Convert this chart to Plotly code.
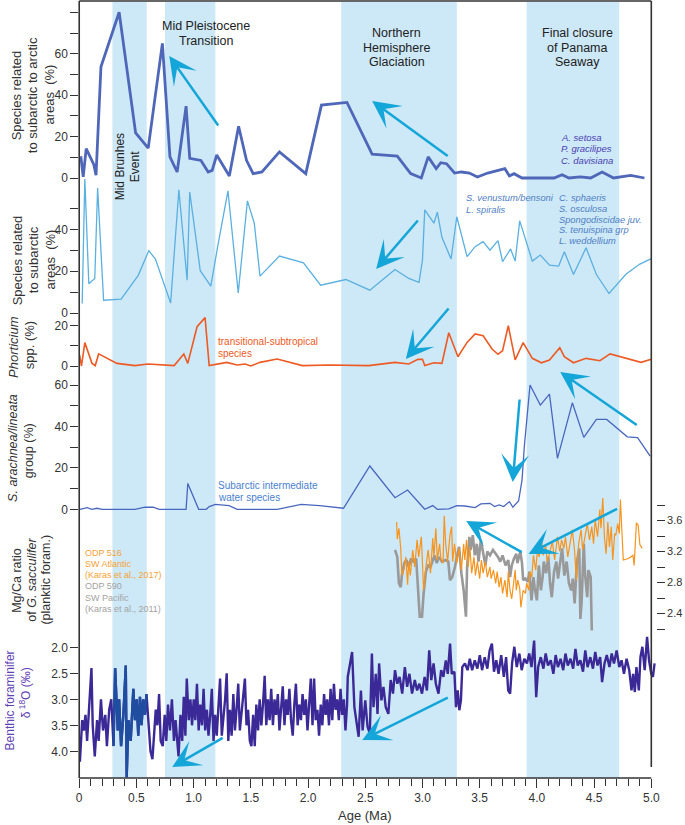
import plotly.graph_objects as go

W, H = 685, 825
FONT = "Liberation Sans, Arial, sans-serif"

# ---------------- data ----------------
arctic_age = [0.014, 0.035, 0.061, 0.127, 0.147, 0.19, 0.349, 0.493, 0.603, 0.727, 0.793, 0.856, 0.934, 0.966,
              1.064, 1.127, 1.162, 1.202, 1.312, 1.393, 1.462, 1.52, 1.597, 1.75, 1.98, 2.117, 2.34, 2.56, 2.78,
              2.897, 2.99, 3.05, 3.12, 3.16, 3.21, 3.28, 3.34, 3.41, 3.48, 3.57, 3.72, 3.76, 3.80, 3.87, 4.15,
              4.22, 4.28, 4.38, 4.47, 4.57, 4.67, 4.82, 4.94]
arctic_pct = [10.5, 0.5, 14.2, 6.6, 1.3, 53.7, 80.0, 21.8, 14.4, 65.0, 10.2, 2.9, 34.7, 9.5,
              8.5, 2.9, 3.7, 11.1, 1.0, 25.0, 8.5, 2.1, 2.9, 12.6, 2.1, 35.2, 36.5, 11.5, 10.6,
              2.1, 0.0, 10.2, 4.5, 7.4, 6.9, 2.4, 2.9, 2.4, 0.5, 2.4, 4.5, 1.0, 2.1, 0.0, 0.0,
              1.6, 0.0, 0.5, 0.0, 2.9, 0.0, 1.3, 0.0]

subarc_age = [0.026, 0.049, 0.084, 0.136, 0.161, 0.213, 0.366, 0.516, 0.608, 0.666, 0.799, 0.871, 0.943, 0.966,
              1.058, 1.15, 1.21, 1.30, 1.39, 1.47, 1.53, 1.58, 1.75, 1.96, 2.11, 2.33, 2.54, 2.76, 2.88, 2.97,
              3.00, 3.02, 3.10, 3.13, 3.17, 3.25, 3.30, 3.39, 3.46, 3.53, 3.59, 3.66, 3.70, 3.77, 3.81, 3.85,
              3.96, 4.03, 4.11, 4.19, 4.24, 4.32, 4.43, 4.52, 4.63, 4.78, 4.90, 5.00]
subarc_pct = [4.5, 64, 14, 16.5, 59.7, 6.1, 6.6, 18, 29.8, 25.8, 4.8, 58.9, 15.7, 57.8,
              20.2, 12.8, 31.7, 58.4, 9.6, 53.6, 42.9, 17.6, 27.2, 24, 13.3, 16, 10.9, 20.8, 16.5, 14.6,
              25.3, 49.3, 42.9, 48.2, 36.2, 25.8, 46, 26.9, 31.7, 34.1, 30, 34.6, 24.5, 30.6, 24.8, 44,
              24.8, 27.7, 22.9, 22.4, 29.3, 18.4, 31.2, 18.4, 9.3, 18.6, 23.4, 26]

phort_age = [0.003, 0.02, 0.049, 0.112, 0.14, 0.17, 0.33, 0.487, 0.60, 0.83, 0.914, 0.949, 1.03, 1.10, 1.136,
             1.29, 1.38, 1.45, 1.50, 1.58, 1.73, 1.95, 2.19, 2.53, 2.76, 2.88, 2.96, 3.00, 3.02, 3.10, 3.17,
             3.23, 3.31, 3.39, 3.46, 3.53, 3.61, 3.66, 3.70, 3.75, 3.81, 3.88, 3.96, 4.04, 4.11, 4.20, 4.24,
             4.32, 4.43, 4.55, 4.64, 4.78, 4.91, 5.00]
phort_pct = [5.5, 0, 11.6, 1.3, 0.2, 6, 1.3, 0.2, 1, 0.2, 6, 1.3, 19.5, 24, 0.2,
             1.8, 0.5, 1, 0, 1.8, 3.5, 0.2, 0.5, 0.2, 1.8, 1, 3.3, 3.3, 0.2, 1.6, 1.3,
             16.5, 4.6, 11.7, 15.9, 15, 8.3, 5.8, 7.6, 20, 3, 11.6, 3.8, 1.6, 3, 9.1, 4.6,
             1.6, 3.8, 2.6, 6, 3.8, 1.8, 3.3]

sarach_age = [0.006, 0.07, 0.11, 0.156, 0.2, 0.487, 0.574, 0.646, 0.70, 0.934, 0.949, 1.044, 1.11, 1.136, 1.19,
              1.31, 1.38, 1.73, 1.94, 2.10, 2.31, 2.54, 2.76, 2.87, 3.02, 3.09, 3.13, 3.23, 3.30, 3.37, 3.46,
              3.51, 3.59, 3.63, 3.67, 3.71, 3.76, 3.79, 3.84, 3.87, 3.89, 3.94, 4.03, 4.11, 4.18, 4.31, 4.41,
              4.52, 4.61, 4.71, 4.79, 4.88, 4.99]
sarach_pct = [0, 0.8, 0, 0.5, 0, 0, 1, 1, 0, 0, 12.5, 0, 0, 1.3, 2.4,
              1.8, 0, 0, 2.4, 1.8, 0.5, 20.9, 5.6, 9.3, 0, 1.8, 0, 0.2, 1.8, 1.6, 0.8,
              2.6, 2.9, 1.3, 2.1, 1.3, 3.7, 1, 4, 14.1, 30.2, 60, 50.3, 55.6, 24.6, 51.4, 34.7,
              43.4, 43.4, 38.7, 35, 34.6, 25.7]

odp516_age = [2.774, 2.78, 2.794, 2.81, 2.82, 2.84, 2.855, 2.87, 2.88, 2.894, 2.915, 2.932, 2.953, 2.967, 2.99,
              3.01, 3.03, 3.05, 3.07, 3.09, 3.10, 3.117, 3.13, 3.15, 3.16, 3.18, 3.19, 3.203, 3.22, 3.24, 3.255,
              3.264, 3.28, 3.30, 3.32, 3.34, 3.36, 3.37, 3.385, 3.40, 3.414, 3.43, 3.45, 3.463, 3.48, 3.50,
              3.515, 3.53, 3.55, 3.567, 3.59, 3.60, 3.62, 3.64, 3.653, 3.67, 3.686, 3.70, 3.72, 3.74, 3.75,
              3.765, 3.78, 3.794, 3.81, 3.82, 3.833, 3.85, 3.86, 3.88, 3.90, 3.91, 3.93, 3.94, 3.955, 3.97,
              3.99, 4.005, 4.02, 4.04, 4.055, 4.077, 4.09, 4.115, 4.135, 4.155, 4.18, 4.20, 4.216, 4.236, 4.25,
              4.27, 4.288, 4.31, 4.33, 4.345, 4.365, 4.386, 4.40, 4.42, 4.44, 4.46, 4.48, 4.495, 4.51, 4.53,
              4.55, 4.56, 4.576, 4.59, 4.605, 4.62, 4.634, 4.65, 4.663, 4.68, 4.69, 4.706, 4.72, 4.73, 4.74,
              4.755, 4.80, 4.84, 4.85, 4.87, 4.885, 4.90, 4.92]
odp516_mgca = [3.58, 3.36, 3.50, 3.24, 2.89, 2.98, 3.13, 2.77, 3.07, 2.89, 3.22, 3.00, 3.35, 3.13, 3.39,
               2.70, 3.00, 3.22, 2.92, 3.37, 3.13, 3.50, 3.09, 3.30, 3.11, 3.05, 3.66, 3.30, 3.07, 3.41, 3.52,
               3.07, 3.30, 3.05, 3.24, 2.96, 3.30, 3.09, 3.35, 3.00, 3.26, 2.92, 3.13, 2.89, 3.07, 2.85,
               3.09, 2.92, 3.07, 2.87, 3.00, 2.85, 2.96, 2.79, 2.94, 2.74, 2.87, 2.66, 2.83, 2.61, 2.94,
               2.70, 2.59, 2.79, 2.96, 2.70, 2.83, 2.72, 2.48, 2.70, 2.66, 2.79, 2.70, 2.94, 2.87, 3.15,
               2.96, 3.22, 3.13, 3.35, 3.15, 3.28, 3.07, 3.20, 3.33, 3.09, 3.39, 3.20, 3.35, 3.24, 3.39,
               3.13, 3.30, 3.48, 3.20, 2.83, 3.30, 3.48, 3.22, 3.41, 3.56, 3.35, 3.52, 3.30, 3.61, 3.39,
               3.74, 3.50, 3.89, 3.39, 3.17, 3.58, 3.26, 3.52, 3.09, 3.43, 3.41, 3.56, 3.43, 3.87, 3.52,
               3.09, 3.11, 3.15, 3.02, 3.57, 3.54, 3.29, 3.24]

odp590_age = [2.76, 2.78, 2.794, 2.81, 2.82, 2.84, 2.86, 2.88, 2.90, 2.92, 2.945, 2.96, 2.976, 2.996, 3.01,
              3.03, 3.05, 3.07, 3.09, 3.106, 3.125, 3.145, 3.17, 3.20, 3.226, 3.24, 3.26, 3.284, 3.30, 3.32,
              3.34, 3.36, 3.38, 3.39, 3.41, 3.42, 3.44, 3.457, 3.475, 3.49, 3.51, 3.53, 3.55, 3.567, 3.59,
              3.616, 3.64, 3.66, 3.68, 3.70, 3.726, 3.75, 3.766, 3.78, 3.80, 3.82, 3.83, 3.855, 3.87, 3.88,
              3.90, 3.92, 3.935, 3.953, 3.97, 3.98, 4.00, 4.017, 4.035, 4.05, 4.06, 4.08, 4.10, 4.115, 4.13,
              4.15, 4.17, 4.185, 4.20, 4.22, 4.24, 4.26, 4.28, 4.30, 4.314, 4.33, 4.35, 4.37, 4.38, 4.39,
              4.41, 4.42, 4.44, 4.45, 4.47, 4.48]
odp590_mgca = [3.22, 3.13, 2.79, 2.74, 2.89, 3.05, 3.09, 3.00, 3.11, 3.07, 3.11, 2.72, 2.36, 2.36, 2.66,
               2.94, 3.02, 3.00, 3.07, 3.15, 3.05, 3.13, 3.07, 3.09, 3.07, 2.83, 2.87, 3.00, 3.13, 3.26,
               2.92, 2.70, 2.36, 3.00, 3.39, 3.22, 3.41, 3.15, 3.30, 3.07, 3.35, 3.17, 3.02, 3.20, 3.15,
               3.22, 3.17, 3.13, 3.07, 3.15, 3.02, 3.09, 2.87, 3.02, 3.11, 3.17, 3.05, 3.20, 3.05, 2.83,
               2.85, 2.81, 2.94, 2.57, 2.87, 2.74, 2.57, 3.02, 2.70, 2.87, 3.07, 2.92, 3.13, 2.79, 2.61,
               2.94, 3.07, 2.85, 3.02, 3.24, 2.89, 3.07, 2.79, 2.70, 2.85, 2.53, 3.07, 3.24, 2.33, 2.53,
               3.30, 2.92, 2.61, 2.96, 2.87, 2.18]

d18o_age = [0.006, 0.026, 0.040, 0.055, 0.069, 0.089, 0.107, 0.118, 0.136, 0.156, 0.170, 0.190, 0.208, 0.228,
            0.242, 0.262, 0.280, 0.300, 0.314, 0.337, 0.349, 0.366, 0.386, 0.407, 0.415, 0.430, 0.450, 0.473,
            0.487, 0.502, 0.516, 0.531, 0.545, 0.559, 0.574, 0.588, 0.603, 0.623, 0.640, 0.655, 0.669, 0.683,
            0.698, 0.712, 0.730, 0.747, 0.761, 0.776, 0.793, 0.810, 0.828, 0.842, 0.856, 0.868, 0.885, 0.900,
            0.914, 0.928, 0.940, 0.957, 0.972, 0.986, 1.001, 1.015, 1.029, 1.044, 1.058, 1.073, 1.087, 1.101,
            1.116, 1.130, 1.145, 1.159, 1.174, 1.188, 1.202, 1.217, 1.231, 1.246, 1.260, 1.275, 1.289, 1.303,
            1.318, 1.332, 1.347, 1.361, 1.375, 1.390, 1.404, 1.419, 1.433, 1.448, 1.462, 1.476, 1.491, 1.505,
            1.520, 1.534, 1.548, 1.563, 1.577, 1.592, 1.606, 1.621, 1.635, 1.649, 1.664, 1.678, 1.693, 1.707,
            1.721, 1.736, 1.750, 1.765, 1.779, 1.794, 1.808, 1.822, 1.837, 1.851, 1.866, 1.880, 1.894, 1.909,
            1.923, 1.938, 1.952, 1.967, 1.981, 1.995, 2.010, 2.024, 2.039, 2.053, 2.067, 2.082, 2.096, 2.111,
            2.125, 2.140, 2.154, 2.168, 2.183, 2.197, 2.212, 2.226, 2.240, 2.255, 2.269, 2.284, 2.298, 2.313,
            2.327, 2.341, 2.347, 2.385, 2.405, 2.425, 2.442, 2.462, 2.477, 2.500, 2.520, 2.540, 2.558, 2.572,
            2.592, 2.607, 2.621, 2.641, 2.659, 2.679, 2.702, 2.722, 2.742, 2.760, 2.780, 2.800, 2.823, 2.846,
            2.866, 2.886, 2.909, 2.933, 2.953, 2.973, 2.996, 3.019, 3.039, 3.059, 3.077, 3.097, 3.117, 3.140,
            3.163, 3.183, 3.204, 3.221, 3.241, 3.256, 3.279, 3.293, 3.308, 3.322, 3.336, 3.348, 3.371, 3.394,
            3.414, 3.434, 3.457, 3.480, 3.501, 3.521, 3.544, 3.567, 3.587, 3.607, 3.625, 3.645, 3.665, 3.688,
            3.711, 3.731, 3.749, 3.766, 3.783, 3.803, 3.824, 3.847, 3.867, 3.890, 3.913, 3.933, 3.953, 3.976,
            3.994, 4.011, 4.034, 4.057, 4.077, 4.097, 4.121, 4.144, 4.164, 4.184, 4.207, 4.230, 4.250, 4.270,
            4.294, 4.317, 4.337, 4.357, 4.380, 4.403, 4.423, 4.443, 4.467, 4.490, 4.510, 4.530, 4.553, 4.570,
            4.591, 4.611, 4.634, 4.654, 4.674, 4.697, 4.720, 4.740, 4.761, 4.784, 4.807, 4.827, 4.841, 4.856,
            4.870, 4.891, 4.905, 4.922, 4.942, 4.963, 4.980, 5.000, 5.014, 5.029]
d18o_val = [4.2, 3.4, 3.6, 3.3, 3.8, 3.1, 2.4, 3.5, 4.1, 3.4, 3.8, 3.0, 3.6, 3.3,
            3.9, 3.2, 3.0, 3.9, 2.4, 3.6, 3.0, 3.9, 3.3, 2.35, 4.5, 3.4, 3.8, 2.8,
            3.4, 3.0, 3.7, 2.95, 3.5, 3.0, 3.3, 2.9, 3.4, 4.0, 4.15, 3.6, 3.2, 3.5,
            2.9, 3.8, 3.9, 3.3, 3.8, 3.1, 3.6, 3.0, 3.8, 3.4, 3.9, 4.1, 3.3, 3.8,
            2.95, 3.7, 2.6, 3.4, 3.0, 3.5, 3.0, 3.4, 2.7, 3.6, 3.1, 3.5, 2.8, 3.6,
            3.2, 3.7, 3.3, 2.8, 3.8, 3.3, 3.7, 3.0, 2.6, 3.7, 3.4, 3.0, 2.5, 3.8,
            3.2, 3.7, 2.9, 3.6, 3.2, 2.7, 3.6, 3.3, 3.0, 2.6, 3.5, 3.2, 3.8, 3.9,
            3.3, 3.9, 3.1, 3.6, 3.0, 3.5, 3.1, 2.55, 3.5, 3.0, 3.4, 2.8, 3.5, 3.0,
            3.3, 2.9, 3.6, 3.2, 2.75, 3.5, 3.0, 3.3, 2.8, 3.4, 3.7, 3.1, 2.7, 3.5,
            3.1, 3.4, 2.9, 3.3, 3.0, 3.6, 3.0, 2.6, 3.5, 2.6, 3.4, 3.2, 3.7, 3.1,
            3.5, 2.9, 3.3, 3.0, 3.5, 2.8, 3.4, 2.7, 3.2, 3.0, 3.4, 2.8, 3.3, 3.0,
            3.6, 3.1, 2.57, 2.09, 3.15, 3.47, 3.72, 2.83, 3.6, 3.02, 3.53, 3.66, 2.12, 3.15,
            2.51, 3.28, 2.31, 3.02, 2.76, 3.15, 3.28, 2.63, 2.89, 2.44, 2.70, 2.57, 2.89, 2.38,
            2.76, 2.51, 2.89, 2.63, 2.83, 2.70, 2.89, 2.57, 2.83, 2.06, 2.63, 2.31, 2.70, 2.89,
            2.44, 2.57, 2.25, 2.51, 1.93, 2.51, 2.47, 3.15, 2.83, 3.21, 3.02, 2.38, 2.31, 2.44,
            2.22, 2.44, 2.25, 2.41, 2.15, 2.44, 2.19, 2.41, 2.06, 1.93, 2.47, 2.25, 2.51, 2.15,
            2.57, 2.19, 2.83, 2.89, 2.31, 1.99, 2.38, 2.12, 2.44, 2.22, 2.31, 2.12, 2.38, 1.87,
            2.96, 2.38, 2.19, 2.41, 2.12, 2.35, 2.25, 2.51, 2.15, 2.38, 2.22, 2.44, 2.12, 2.35,
            2.22, 2.41, 2.03, 2.35, 2.25, 2.47, 2.06, 2.38, 2.19, 2.41, 2.09, 2.35, 2.19, 2.67,
            2.31, 2.15, 2.38, 2.12, 2.31, 2.06, 2.38, 2.25, 2.51, 2.22, 2.44, 2.83, 2.51, 2.86,
            2.38, 2.83, 2.19, 1.99, 2.44, 1.80, 2.25, 2.51, 2.57, 2.31]

bands = [(0.29, 0.59), (0.75, 1.19), (2.29, 3.30), (3.91, 4.72)]
x_ticks_major = [0, 0.5, 1.0, 1.5, 2.0, 2.5, 3.0, 3.5, 4.0, 4.5, 5.0]
x_tick_labels = ["0", "0.5", "1.0", "1.5", "2.0", "2.5", "3.0", "3.5", "4.0", "4.5", "5.0"]

# ---------------- styling helpers ----------------
ARCTIC = "#4f67b8"
SUBARC = "#5ab0e0"
PHORT = "#ee5a24"
SARACH = "#4a67c0"
ORANGE = "#f7941d"
GRAY = "#999999"
D18O = "#3a2996"
D18O_B = "#1f4da0"
BAND = "#cde8f7"
ARROW = "#14a6d8"
AX = "#333333"


def py(p):
    return 1 - p / H


def px(p):
    return p / W


def yrange(va, pa, vb, pb):
    k = (pb - pa) / (vb - va)
    return [va + (H - pa) / k, va + (0 - pa) / k]


X0, XPX = 77.0, 115.6   # pixel of age 0, pixels per Ma
XMAX = 5.04

fig = go.Figure()

fig.add_trace(go.Scatter(x=arctic_age, y=arctic_pct, yaxis="y", mode="lines",
                         line=dict(color=ARCTIC, width=2.8)))
fig.add_trace(go.Scatter(x=subarc_age, y=subarc_pct, yaxis="y2", mode="lines",
                         line=dict(color=SUBARC, width=1.3)))
fig.add_trace(go.Scatter(x=phort_age, y=phort_pct, yaxis="y3", mode="lines",
                         line=dict(color=PHORT, width=1.6)))
fig.add_trace(go.Scatter(x=sarach_age, y=sarach_pct, yaxis="y4", mode="lines",
                         line=dict(color=SARACH, width=1.3)))
fig.add_trace(go.Scatter(x=odp590_age, y=odp590_mgca, yaxis="y5", mode="lines",
                         line=dict(color=GRAY, width=2.6)))
fig.add_trace(go.Scatter(x=odp516_age, y=odp516_mgca, yaxis="y5", mode="lines",
                         line=dict(color=ORANGE, width=1.2)))
fig.add_trace(go.Scatter(x=d18o_age, y=d18o_val, yaxis="y6", mode="lines",
                         line=dict(color=D18O, width=2.4)))
mbe = [(a, v) for a, v in zip(d18o_age, d18o_val) if bands[0][0] <= a <= bands[0][1]]
fig.add_trace(go.Scatter(x=[a for a, v in mbe], y=[v for a, v in mbe], yaxis="y6", mode="lines",
                         line=dict(color=D18O_B, width=2.4)))

ybase = dict(showgrid=False, zeroline=False, showline=False, ticks="outside", ticklen=8, tickwidth=1.2,
             tickcolor=AX, tickfont=dict(size=12, color=AX, family=FONT), domain=[0, 1], anchor="x",
             fixedrange=True)


def lab(vals, shown):
    return [("%g" % v) if v in shown else "" for v in vals]


t1 = [0, 10, 20, 30, 40, 50, 60, 70, 80]
t2 = [0, 10, 20, 30, 40, 50]
t3 = [0, 10, 20]
t4 = [0, 10, 20, 30, 40, 50, 60]
t5 = [2.2, 2.4, 2.6, 2.8, 3.0, 3.2, 3.4, 3.6, 3.8]
t6 = [2.0, 2.5, 3.0, 3.5, 4.0]

fig.update_layout(
    width=W, height=H, margin=dict(l=0, r=0, t=0, b=0), autosize=False,
    paper_bgcolor="white", plot_bgcolor="rgba(0,0,0,0)", showlegend=False,
    font=dict(family=FONT, color=AX),
    xaxis=dict(domain=[X0 / W, (X0 + XMAX * XPX) / W], range=[0, XMAX], anchor="free", position=py(778),
               showgrid=False, zeroline=False, showline=False, ticks="outside", ticklen=9, tickwidth=1.2,
               tickcolor=AX, tickvals=x_ticks_major, ticktext=x_tick_labels,
               tickfont=dict(size=12, color=AX, family=FONT),
               minor=dict(dtick=0.1, ticks="outside", ticklen=7, tickwidth=1.2, tickcolor=AX),
               fixedrange=True),
    yaxis=dict(ybase, range=yrange(0, 178, 80, 12.3), tickvals=t1, ticktext=lab(t1, [0, 20, 40, 60])),
    yaxis2=dict(ybase, overlaying="y", range=yrange(0, 313, 40, 229.3), tickvals=t2,
                ticktext=lab(t2, [0, 20, 40])),
    yaxis3=dict(ybase, overlaying="y", range=yrange(0, 366, 20, 325.7), tickvals=t3,
                ticktext=lab(t3, [0, 20])),
    yaxis4=dict(ybase, overlaying="y", range=yrange(0, 509.3, 60, 385), tickvals=t4,
                ticktext=lab(t4, [0, 20, 40, 60])),
    yaxis5=dict(ybase, overlaying="y", side="right", range=yrange(2.2, 629, 3.8, 505), tickvals=t5,
                ticktext=["", "2.4", "", "2.8", "", "3.2", "", "3.6", ""],
                tickfont=dict(size=11, color=AX, family=FONT)),
    yaxis6=dict(ybase, overlaying="y", range=yrange(2.0, 647.3, 4.0, 751.3), tickvals=t6,
                ticktext=["%.1f" % v for v in t6]),
)

shapes = []
for a, b in bands:
    shapes.append(dict(type="rect", xref="x", yref="paper", x0=a, x1=b, y0=py(778), y1=py(2),
                       fillcolor=BAND, line=dict(width=0), layer="below"))
line_style = dict(color=AX, width=1.6)
shapes += [
    dict(type="line", xref="paper", yref="paper", x0=px(77), x1=px(77), y0=py(1), y1=py(778), line=line_style),
    dict(type="line", xref="paper", yref="paper", x0=px(77), x1=px(655), y0=py(1), y1=py(1), line=line_style),
    dict(type="line", xref="paper", yref="paper", x0=px(655), x1=px(655), y0=py(1), y1=py(767), line=line_style),
    dict(type="line", xref="paper", yref="paper", x0=px(77), x1=px(655), y0=py(778), y1=py(778), line=line_style),
]
fig.update_layout(shapes=shapes)

ann = []


def txt(x, y, s, size=12, color="#222222", xanchor="center", angle=0, family=FONT):
    ann.append(dict(x=px(x), y=py(y), xref="paper", yref="paper", text=s, showarrow=False,
                    font=dict(size=size, color=color, family=family), xanchor=xanchor, yanchor="middle",
                    textangle=angle))


def arrow(tx, ty, hx, hy):
    ann.append(dict(x=px(hx), y=py(hy), xref="paper", yref="paper", ax=tx - hx, ay=ty - hy,
                    axref="pixel", ayref="pixel", showarrow=True, arrowhead=3, arrowsize=1.85,
                    arrowwidth=2.5, arrowcolor=ARROW, text="", standoff=0))


# event labels
txt(205, 26, "Mid Pleistocene", 12.5)
txt(205, 41.5, "Transition", 12.5)
for i, s in enumerate(["Northern", "Hemisphere", "Glaciation"]):
    txt(398, 32.7 + 14.8 * i, s, 12.5)
for i, s in enumerate(["Final closure", "of Panama", "Seaway"]):
    txt(580, 32.7 + 14.8 * i, s, 12.5)
txt(118.5, 167, "Mid Brunhes", 12, angle=-90)
txt(133.5, 167, "Event", 12, angle=-90)

# species labels
for y, s in [(137.3, "A. setosa"), (148.7, "P. gracilipes"), (160, "C. davisiana")]:
    txt(562, y, "<i>%s</i>" % s, 9.5, "#4a3fb3", "left")
for y, s in [(198.3, "S. venustum/bensoni"), (210, "L. spiralis")]:
    txt(466, y, "<i>%s</i>" % s, 9.3, "#4f80c4", "left")
for y, s in [(198.3, "C. sphaeris"), (209.3, "S. osculosa"), (219.5, "Spongodiscidae juv."),
             (230, "S. tenuispina grp"), (241, "L. weddellium")]:
    txt(560, y, "<i>%s</i>" % s, 9.3, "#4f80c4", "left")
txt(215.5, 341, "transitional-subtropical", 10, PHORT, "left")
txt(215.5, 353.3, "species", 10, PHORT, "left")
txt(215, 485, "Subarctic intermediate", 10, "#4a7fd0", "left")
txt(215, 497.3, "water species", 10, "#4a7fd0", "left")
for i, s in enumerate(["ODP 516", "SW Atlantic", "(Karas et al., 2017)"]):
    txt(81, 552.7 + 11.2 * i, s, 9, "#f7a234", "left")
for i, s in enumerate(["ODP 590", "SW Pacific", "(Karas et al., 2011)"]):
    txt(81, 586.3 + 11.2 * i, s, 9, "#a3a3a3", "left")

# axis titles
for x, s in [(14.5, "Species related"), (30.5, "to subarctic to arctic"), (47, "areas  (%)")]:
    txt(x, 95, s, 13, AX, angle=-90)
for x, s in [(14.5, "Species related"), (30.5, "to subarctic"), (47, "areas  (%)")]:
    txt(x, 260, s, 13, AX, angle=-90)
txt(10, 347, "<i>Phorticium</i>", 13, AX, angle=-90)
txt(26.5, 345, "spp. (%)", 13, AX, angle=-90)
txt(10, 448, "<i>S. arachnea/lineata</i>", 12.5, AX, angle=-90)
txt(26.5, 451, "group (%)", 12.5, AX, angle=-90)
txt(14, 580, "Mg/Ca ratio", 12.5, AX, angle=-90)
txt(29, 580, "of <i>G. sacculifer</i>", 12.5, AX, angle=-90)
txt(43, 580, "(planktic foram.)", 12.5, AX, angle=-90)
txt(7.5, 700, "Benthic foraminifer", 12, "#5e42b6", angle=-90)
txt(22.5, 693, "δ<sup> 18</sup>O (‰)", 12, "#5e42b6", angle=-90)
txt(365, 815, "Age (Ma)", 13, AX)

# arrows
arrow(218, 127, 168, 56)
arrow(450, 157, 373, 101)
arrow(420, 219, 377, 269)
arrow(451, 307, 407, 359)
arrow(522, 398, 515, 482)
arrow(641, 426, 563, 372)
arrow(525, 553, 468, 521)
arrow(621, 508, 531, 554)
arrow(223, 737, 171, 767)
arrow(450, 697, 363, 740)

fig.update_layout(annotations=ann)

fig.write_html("out.html", config={"displayModeBar": False},
               post_script="document.body.style.margin='0';")
